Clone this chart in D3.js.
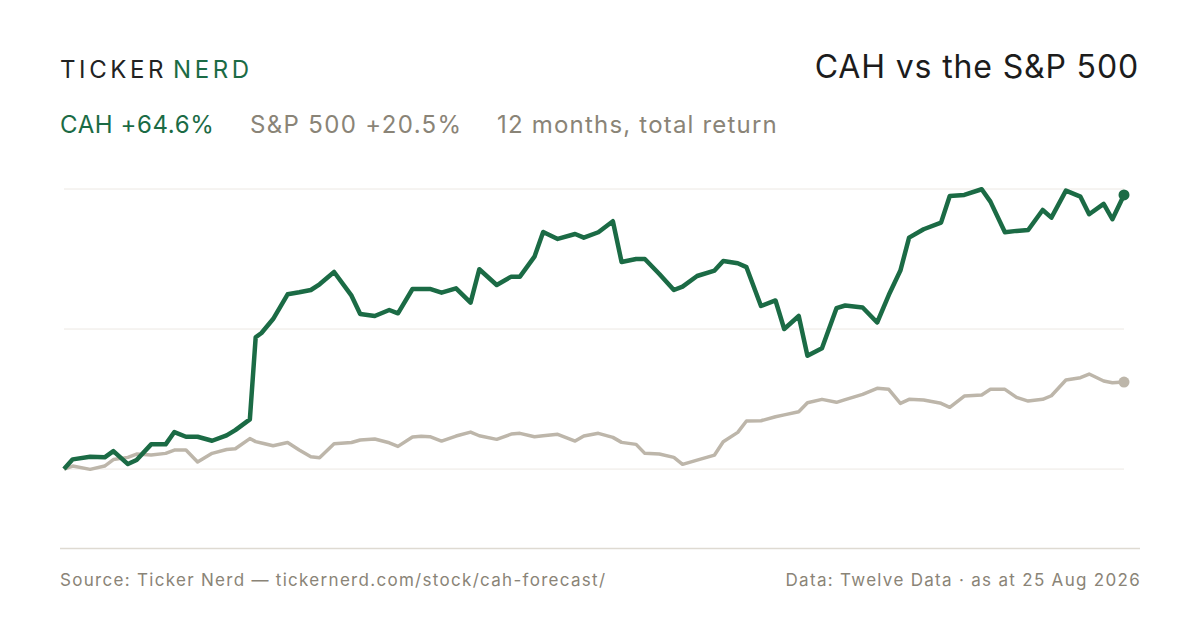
<!DOCTYPE html>
<html>
<head>
<meta charset="utf-8">
<script src="https://cdn.jsdelivr.net/npm/d3@7"></script>
<style>
  html, body { margin: 0; padding: 0; background: #fff; }
  svg { display: block; font-family: Inter, "Noto Sans", sans-serif; }
</style>
</head>
<body>
<div id="chart"></div>
<script>
// Sampled closing dates, 12 months to 25 Aug 2026
const dates = [
  "2025-08-25","2025-08-28","2025-09-03","2025-09-08","2025-09-11","2025-09-16","2025-09-19","2025-09-24",
  "2025-09-29","2025-10-02","2025-10-06","2025-10-10","2025-10-15","2025-10-20","2025-10-23","2025-10-28",
  "2025-10-30","2025-11-01","2025-11-05","2025-11-10","2025-11-14","2025-11-18","2025-11-21","2025-11-26",
  "2025-12-02","2025-12-05","2025-12-10","2025-12-15","2025-12-18","2025-12-23","2025-12-26","2025-12-29",
  "2026-01-02","2026-01-07","2026-01-12","2026-01-15","2026-01-21","2026-01-26","2026-01-29","2026-02-03",
  "2026-02-06","2026-02-11","2026-02-17","2026-02-20","2026-02-25","2026-03-02","2026-03-05","2026-03-10",
  "2026-03-13","2026-03-18","2026-03-23","2026-03-26","2026-03-31","2026-04-06","2026-04-09","2026-04-14",
  "2026-04-17","2026-04-22","2026-04-27","2026-04-30","2026-05-05","2026-05-08","2026-05-13","2026-05-18",
  "2026-05-21","2026-05-27","2026-06-01","2026-06-05","2026-06-09","2026-06-12","2026-06-17","2026-06-23",
  "2026-06-26","2026-07-01","2026-07-07","2026-07-10","2026-07-15","2026-07-19","2026-07-23","2026-07-28",
  "2026-07-31","2026-08-05","2026-08-10","2026-08-13","2026-08-18","2026-08-21","2026-08-25"
];

// Cumulative total return, %
const cahReturn = [
  0, 2.29, 2.90, 2.76, 4.24, 1.18, 2.12, 5.82,
  5.82, 8.72, 7.62, 7.62, 6.67, 7.95, 9.19, 11.72,
  31.05, 32.08, 35.36, 41.19, 41.65, 42.20, 43.55, 46.45,
  40.86, 36.54, 36.07, 37.49, 36.71, 42.44, 42.44, 42.44,
  41.57, 42.60, 39.21, 47.08, 43.38, 45.34, 45.34, 50.05,
  55.88, 54.23, 55.40, 54.53, 55.81, 58.40, 48.80, 49.51,
  49.51, 45.97, 42.20, 43.00, 45.50, 46.78, 49.04, 48.50,
  47.58, 38.43, 39.73, 33.01, 36.07, 26.69, 28.48, 37.91,
  38.55, 38.08, 34.54, 41.02, 46.78, 54.53, 56.51, 58.07,
  64.36, 64.60, 65.94, 63.02, 55.81, 56.13, 56.35, 61.06,
  59.25, 65.61, 64.20, 60.05, 62.48, 58.87, 64.6
];

const spxReturn = [
  0, 0.71, -0.07, 0.71, 2.24, 2.76, 3.54, 3.30,
  3.70, 4.48, 4.48, 1.65, 3.70, 4.60, 4.79, 7.19,
  6.48, 6.13, 5.49, 6.25, 4.48, 2.90, 2.66, 5.96,
  6.25, 6.84, 7.07, 6.20, 5.35, 7.54, 7.71, 7.62,
  6.60, 7.78, 8.72, 7.85, 7.00, 8.25, 8.42, 7.62,
  7.83, 8.18, 6.60, 7.78, 8.42, 7.47, 6.29, 5.82,
  3.70, 3.54, 2.76, 1.11, 2.12, 3.30, 6.44, 8.65,
  11.32, 11.39, 12.33, 12.78, 13.51, 15.63, 16.43, 15.73,
  16.36, 17.61, 19.03, 18.79, 15.49, 16.43, 16.27, 15.49,
  14.55, 17.21, 17.45, 18.79, 18.79, 16.90, 16.03, 16.43,
  17.28, 20.98, 21.53, 22.40, 20.75, 20.35, 20.5
];

const gridTicks = [0, 33, 66];

const width = 1200, height = 630;
const green = "#1b6b45", grey = "#bdb6aa", muted = "#8a8477";

const parse = d3.timeParse("%Y-%m-%d");
const cah = dates.map((d, i) => ({ date: parse(d), value: cahReturn[i] }));
const spx = dates.map((d, i) => ({ date: parse(d), value: spxReturn[i] }));

const svg = d3.select("#chart").append("svg")
  .attr("width", width)
  .attr("height", height);

const x = d3.scaleTime()
  .domain(d3.extent(cah, d => d.date))
  .range([64, 1124]);

const y = d3.scaleLinear()
  .domain([-18.6, 66])
  .range([548, 189]);

// Header
const brand = svg.append("text")
  .attr("x", 60).attr("y", 78)
  .attr("font-size", 24)
  .attr("letter-spacing", 3.6);
brand.append("tspan").attr("fill", "#222").text("TICKER");
brand.append("tspan").attr("fill", green).attr("dx", 6).text("NERD");

svg.append("text")
  .attr("x", 1139).attr("y", 78)
  .attr("text-anchor", "end")
  .attr("font-size", 32)
  .attr("letter-spacing", 0.85)
  .attr("fill", "#1c1c1c")
  .text("CAH vs the S&P 500");

const sub = svg.append("g").attr("font-size", 24);
sub.append("text").attr("x", 60).attr("y", 133).attr("fill", green)
  .attr("letter-spacing", 0.6).text("CAH +64.6%");
sub.append("text").attr("x", 250).attr("y", 133).attr("fill", muted)
  .attr("letter-spacing", 1.35).text("S&P 500 +20.5%");
sub.append("text").attr("x", 497).attr("y", 133).attr("fill", muted)
  .attr("letter-spacing", 1.2).text("12 months, total return");

// Gridlines
svg.append("g")
  .selectAll("line")
  .data(gridTicks)
  .join("line")
  .attr("x1", x.range()[0])
  .attr("x2", x.range()[1])
  .attr("y1", d => y(d))
  .attr("y2", d => y(d))
  .attr("stroke", "#ece8e3")
  .attr("stroke-width", 1);

const line = d3.line()
  .x(d => x(d.date))
  .y(d => y(d.value));

svg.append("path")
  .datum(spx)
  .attr("fill", "none")
  .attr("stroke", grey)
  .attr("stroke-width", 3.5)
  .attr("stroke-linejoin", "round")
  .attr("d", line);

svg.append("path")
  .datum(cah)
  .attr("fill", "none")
  .attr("stroke", green)
  .attr("stroke-width", 4.5)
  .attr("stroke-linejoin", "round")
  .attr("d", line);

// End markers
[[spx, grey], [cah, green]].forEach(([series, color]) => {
  const last = series[series.length - 1];
  svg.append("circle")
    .attr("cx", x(last.date))
    .attr("cy", y(last.value))
    .attr("r", 5.5)
    .attr("fill", color);
});

// Footer
svg.append("line")
  .attr("x1", 60).attr("x2", 1140)
  .attr("y1", 548.5).attr("y2", 548.5)
  .attr("stroke", "#dedad2")
  .attr("stroke-width", 1.5);

svg.append("text")
  .attr("x", 60).attr("y", 586)
  .attr("font-size", 17)
  .attr("letter-spacing", 1.3)
  .attr("fill", muted)
  .text("Source: Ticker Nerd \u2014 tickernerd.com/stock/cah-forecast/");

svg.append("text")
  .attr("x", 1141).attr("y", 586)
  .attr("text-anchor", "end")
  .attr("font-size", 17)
  .attr("letter-spacing", 1.3)
  .attr("fill", muted)
  .text("Data: Twelve Data \u00b7 as at 25 Aug 2026");
</script>
</body>
</html>
